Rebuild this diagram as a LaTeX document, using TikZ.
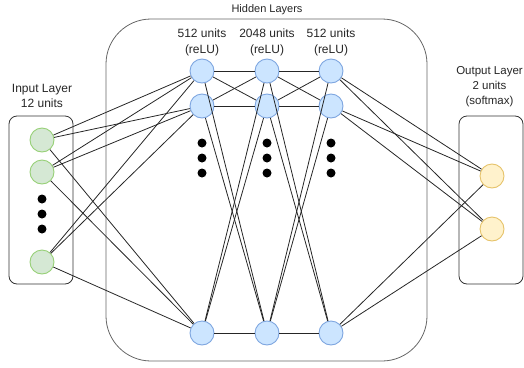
\documentclass[tikz,border=0pt]{standalone}
\usepackage{fontspec}
\setmainfont{Liberation Sans}
\definecolor{gfill}{HTML}{D5E8D4}
\definecolor{gline}{HTML}{97D077}
\definecolor{bfill}{HTML}{CCE5FF}
\definecolor{bline}{HTML}{7EA6E0}
\definecolor{ofill}{HTML}{FFF2CC}
\definecolor{oline}{HTML}{E6C36A}
\definecolor{boxline}{HTML}{333333}
\begin{document}
\begin{tikzpicture}[x=1pt,y=-1pt,
  unit/.style={circle,minimum size=24pt,inner sep=0pt,line width=0.9pt},
  inunit/.style={unit,draw=gline,fill=gfill},
  hidunit/.style={unit,draw=bline,fill=bfill},
  outunit/.style={unit,draw=oline,fill=ofill},
  layerbox/.style={draw=boxline,line width=0.8pt},
  edge/.style={draw=black!85,line width=0.8pt},
  lbl/.style={font=\fontsize{12}{15}\selectfont,align=center,text=black!85},
  dot/.style={circle,fill=black,minimum size=9pt,inner sep=0pt}]
\useasboundingbox (0,0) rectangle (524,367);
% boxes
\draw[layerbox,rounded corners=8pt] (9,116) rectangle (73,284);
\draw[layerbox,draw=black!60,rounded corners=45pt] (106,19) rectangle (427,361);
\draw[layerbox,rounded corners=8pt] (459,116) rectangle (523,284);
% labels
\node[lbl,font=\fontsize{11}{13}\selectfont] (hl) at (267,10) {Hidden Layers};
\node[lbl] (il) at (42,95.5) {Input Layer\\12 units};
\node[lbl,font=\fontsize{11.5}{15}\selectfont] (ol) at (489.5,87) {Output Layer\\2 units\\(softmax)};
\node[lbl,font=\fontsize{12}{16}\selectfont] (l1) at (202,42.5) {512 units\\(reLU)};
\node[lbl,font=\fontsize{12}{16}\selectfont] (l2) at (267,42.5) {2048 units\\(reLU)};
\node[lbl,font=\fontsize{12}{16}\selectfont] (l3) at (331,42.5) {512 units\\(reLU)};
% input nodes
\node[inunit] (i1) at (42,140) {};
\node[inunit] (i2) at (42,172) {};
\node[inunit] (i3) at (42,262) {};
\node[dot] (di1) at (42,199) {};
\node[dot] (di2) at (42,214) {};
\node[dot] (di3) at (42,229) {};
% hidden nodes
\foreach \c/\x in {1/202,2/267,3/331}{
  \node[hidunit] (h\c1) at (\x,71) {};
  \node[hidunit] (h\c2) at (\x,106) {};
  \node[hidunit] (h\c3) at (\x,333) {};
  \node[dot] (dh\c1) at (\x,143) {};
  \node[dot] (dh\c2) at (\x,158) {};
  \node[dot] (dh\c3) at (\x,173) {};
}
% output nodes
\node[outunit] (o1) at (492,176) {};
\node[outunit] (o2) at (492,229) {};
% connections
\foreach \a in {1,2,3}{
  \foreach \b in {1,2,3}{
    \draw[edge] (i\a) -- (h1\b);
    \draw[edge] (h1\a) -- (h2\b);
    \draw[edge] (h2\a) -- (h3\b);
  }
  \foreach \b in {1,2}{
    \draw[edge] (h3\a) -- (o\b);
  }
}
\end{tikzpicture}
\end{document}
